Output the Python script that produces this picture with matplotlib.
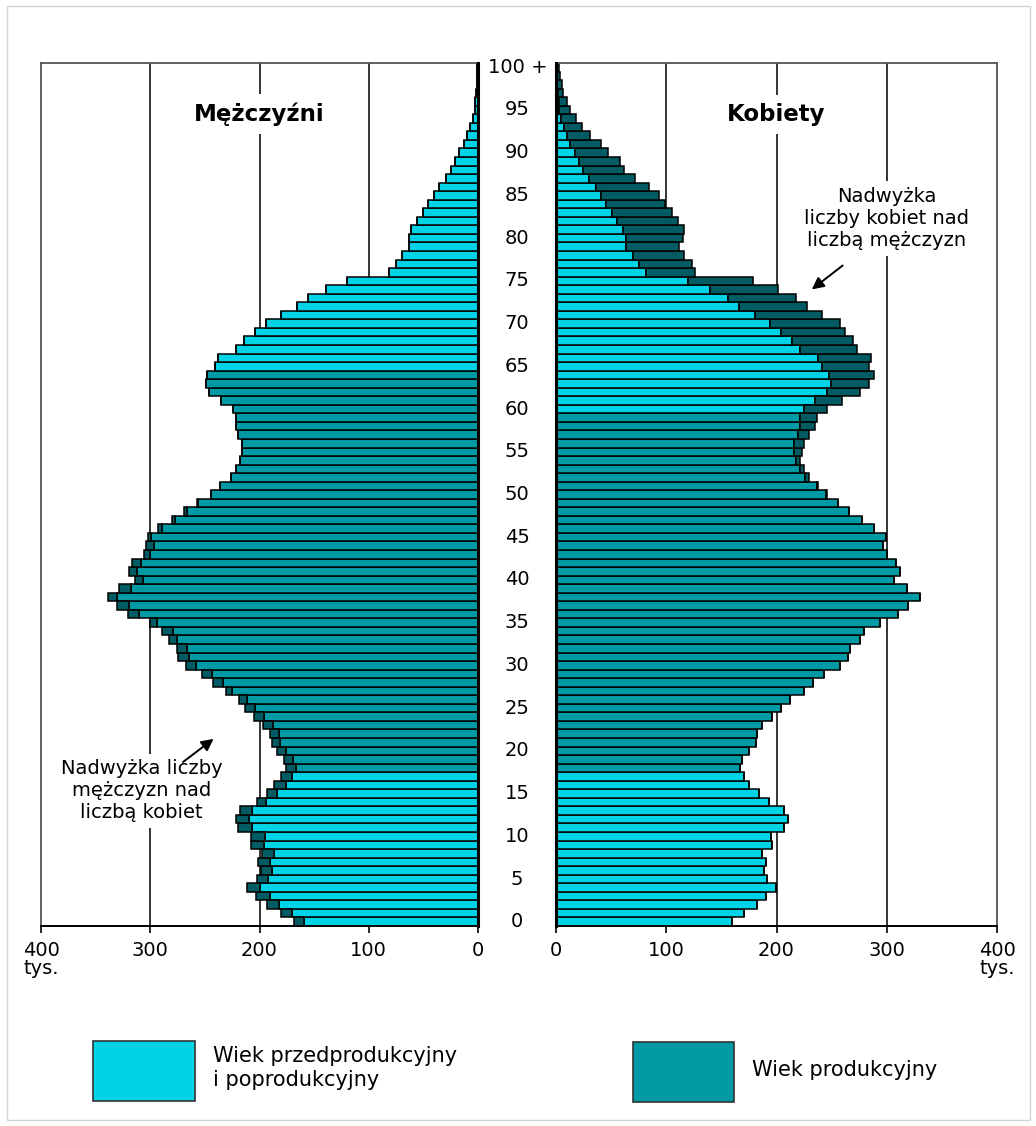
import numpy as np
import matplotlib
matplotlib.use("Agg")
import matplotlib.pyplot as plt
from matplotlib.patches import Rectangle
from matplotlib.transforms import blended_transform_factory

# population by single year of age (thousands), age 0 .. 100+
ages = np.arange(0, 101)

men = [
    168.6, 180, 193, 203.4, 211, 202.7, 199, 201, 198, 208.2,
    208.2, 219.5, 221.6, 218, 202.7, 193, 186.6, 179.9, 176.2, 177.7,
    183.8, 188.4, 190, 196.6, 205, 213.4, 218.6, 231, 243, 253,
    267.4, 274.4, 275.9, 282.6, 289, 300.3, 320, 330.8, 339, 328.7,
    314, 319.2, 317, 305.8, 304.3, 302.4, 292.7, 280.5, 269.2, 257.6,
    244.5, 236.3, 226.2, 221.6, 218, 215.9, 215.9, 219.5, 221.6, 221.6,
    224.7, 234.8, 246, 249.4, 247.9, 240.9, 237.8, 221.6, 214, 204,
    194, 180.5, 166, 156, 139.5, 120, 81.5, 75.5, 70, 63.5,
    63.5, 61, 55.5, 50.5, 45.5, 40.5, 36, 29.5, 24.5, 21,
    17, 13, 10, 7, 4.5, 3, 2.5, 1.8, 1.2, 0.8,
    0.5,
]

women = [
    159.5, 170.6, 182, 190.3, 199.7, 191.8, 188.8, 190.3, 186.7, 195.5,
    194.9, 207, 210, 207, 193.6, 183.7, 175.5, 170.7, 167, 169,
    175.5, 181, 182, 187.3, 195.5, 204, 211.8, 225, 233, 243.3,
    257.8, 264.4, 266.3, 275.3, 279, 294, 310, 319.7, 330.3, 318,
    306.7, 312, 308.5, 300, 297, 299, 288.8, 277.3, 266, 256,
    246, 238, 229.7, 224.8, 221, 223, 224.8, 229.7, 234.5, 236.4,
    246, 259, 275.8, 284, 288.8, 284, 285.5, 272.7, 269, 262,
    258, 241, 228, 218, 201, 179, 126, 123, 116, 112,
    115, 116, 111, 105, 99, 93, 84, 72, 62, 58,
    47, 41, 31, 24, 18, 13, 10, 6.7, 5, 3.6,
    2.4,
]

# working age: men 18-64, women 18-59
men_work = (18, 64)
women_work = (18, 59)

age_labels = [str(a) for a in range(0, 100, 5)] + ["100 +"]
ticks = [0, 100, 200, 300, 400]

C_OTHER = "#00D3E6"
C_WORK = "#009AA4"
C_EXCESS = "#005B62"

men = np.array(men)
women = np.array(women)
common = np.minimum(men, women)

W, H = 1036, 1126
fig = plt.figure(figsize=(W / 100, H / 100), dpi=100)
fig.patches.append(Rectangle((7 / W, 6 / H), 1023 / W, 1114 / H, transform=fig.transFigure,
                             fill=False, edgecolor="#d4d4d4", lw=1))

axL = fig.add_axes([41 / W, (H - 926) / H, 437 / W, 863 / H])
axR = fig.add_axes([556 / W, (H - 926) / H, 441 / W, 863 / H])


def panel(ax, total, work, side):
    base = [C_WORK if work[0] <= a <= work[1] else C_OTHER for a in ages]
    excess = np.clip(total - common, 0, None)
    ax.barh(ages, common, height=1.0, color=base, edgecolor="black", lw=1.1, zorder=2)
    ax.barh(ages, excess, left=common, height=1.0, color=C_EXCESS, edgecolor="black",
            lw=1.1, zorder=2)
    for g in [100, 200, 300]:
        ax.axvline(g, color="#333333", lw=1.4, zorder=1)
    ax.set_ylim(-0.5, 100.5)
    ax.set_xlim(0, 400)
    ax.set_yticks([])
    ax.set_xticks(ticks)
    labels = [str(t) for t in ticks]
    labels[-1] = "400\ntys."
    ax.set_xticklabels(labels, fontsize=14, linespacing=0.9, va="top")
    ax.tick_params(axis="x", direction="out", length=5, width=1.2, pad=6)
    for s in ["top", "left", "right"]:
        ax.spines[s].set_color("#555555")
        ax.spines[s].set_linewidth(1.3)
    ax.spines["bottom"].set_linewidth(1.4)
    inner = "right" if side == "left" else "left"
    ax.spines[inner].set_color("black")
    ax.spines[inner].set_linewidth(2.2)
    ax.spines[inner].set_zorder(3)


panel(axL, men, men_work, "left")
panel(axR, women, women_work, "right")
axL.invert_xaxis()

# age labels between the panels
tr = blended_transform_factory(fig.transFigure, axL.transData)
for a, lab in zip(list(range(0, 100, 5)) + [100], age_labels):
    x = 517 / W if a < 100 else 518 / W
    fig.text(x, a, lab, transform=tr, ha="center", va="center", fontsize=14)

box = dict(facecolor="white", edgecolor="none", pad=6)
axL.text(200, 94.5, "Mężczyźni", ha="center", va="center", fontsize=16.5,
         fontweight="bold", bbox=box, zorder=4)
axR.text(200, 94.5, "Kobiety", ha="center", va="center", fontsize=16.5,
         fontweight="bold", bbox=box, zorder=4)

axR.text(300, 82.3, "Nadwyżka\nliczby kobiet nad\nliczbą mężczyzn", ha="center",
         va="center", fontsize=14, linespacing=1.2, bbox=dict(facecolor="white",
         edgecolor="none", pad=4), zorder=4)
axR.annotate("", xy=(230, 73.8), xytext=(262, 77.0),
             arrowprops=dict(arrowstyle="-|>", color="black", lw=1.4,
                             mutation_scale=18), zorder=4)

axL.text(308, 15.3, "Nadwyżka liczby\nmężczyzn nad\nliczbą kobiet", ha="center",
         va="center", fontsize=14, linespacing=1.2, bbox=dict(facecolor="white",
         edgecolor="none", pad=4), zorder=4)
axL.annotate("", xy=(240, 21.6), xytext=(272, 18.5),
             arrowprops=dict(arrowstyle="-|>", color="black", lw=1.4,
                             mutation_scale=18), zorder=4)

# legend
fig.patches.append(Rectangle((93 / W, (H - 1101) / H), 102 / W, 60 / H,
                             transform=fig.transFigure, facecolor=C_OTHER,
                             edgecolor="#333333", lw=1.2))
fig.text(213 / W, (H - 1068) / H, "Wiek przedprodukcyjny\ni poprodukcyjny", ha="left",
         va="center", fontsize=15, linespacing=1.3)
fig.patches.append(Rectangle((633 / W, (H - 1102) / H), 101 / W, 60 / H,
                             transform=fig.transFigure, facecolor=C_WORK,
                             edgecolor="#333333", lw=1.2))
fig.text(752 / W, (H - 1070) / H, "Wiek produkcyjny", ha="left", va="center", fontsize=15)

fig.savefig("out.png", dpi=100)
